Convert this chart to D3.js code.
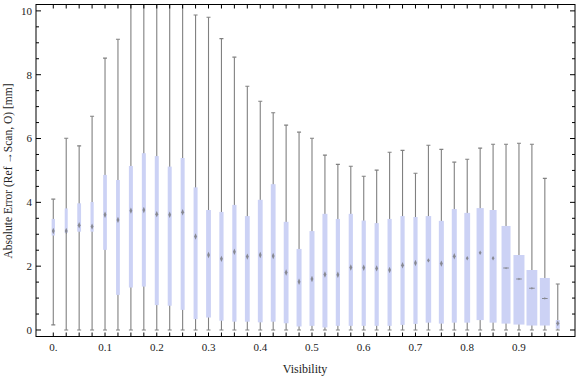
<!DOCTYPE html>
<html><head><meta charset="utf-8">
<script src="https://cdn.jsdelivr.net/npm/d3@7"></script>
<style>
html,body{margin:0;padding:0;background:#fff;}
svg{display:block;}
text{font-family:"Liberation Serif","Times New Roman",serif;fill:#222;}
</style></head>
<body>
<svg id="chart" width="576" height="377"></svg>
<script>
// Visibility bins (box positions)
const visibility = d3.range(40).map(i => +(i * 0.025).toFixed(3));
// Whisker minimum
const whiskerLow = [0.16,0,0,0,0,0,0,0,0,0,0,0,0,0,0,0,0,0,0,0,0,0,0,0,0,0,0,0,0,0,0,0,0,0,0,0,0,0,0,0];
// First quartile
const q1 = [2.96,3.04,3.08,3.08,2.51,1.10,1.33,1.36,0.78,0.76,0.63,0.34,0.39,0.29,0.26,0.26,0.24,0.26,0.21,0.11,
            0.13,0.08,0.13,0.13,0.13,0.13,0.13,0.16,0.19,0.23,0.20,0.23,0.23,0.31,0.23,0.20,0.17,0.14,0.14,0.04];
// Median
const median = [3.10,3.10,3.28,3.24,3.61,3.45,3.74,3.76,3.63,3.61,3.69,2.93,2.35,2.23,2.45,2.30,2.35,2.32,1.80,1.51,
                1.60,1.74,1.73,1.96,1.95,1.93,1.88,2.03,2.10,2.18,2.08,2.31,2.25,2.42,2.25,1.94,1.60,1.31,0.99,0.21];
// Third quartile
const q3 = [3.48,3.81,3.97,4.01,4.86,4.70,5.14,5.54,5.45,5.12,5.39,4.47,3.76,3.70,3.92,3.57,4.08,4.57,3.39,2.54,
            3.10,3.64,3.48,3.64,3.43,3.35,3.48,3.57,3.54,3.57,3.42,3.79,3.67,3.82,3.76,3.26,2.35,1.88,1.63,0.31];
// Whisker maximum
const whiskerHigh = [4.10,6.01,5.77,6.70,8.52,9.11,10.24,10.9,10.7,10.6,10.5,9.87,9.80,9.13,8.55,7.64,7.17,6.81,6.42,6.20,
                     6.01,5.48,5.19,5.13,4.82,5.01,5.57,5.63,4.91,5.79,5.66,5.26,5.35,5.70,5.82,5.82,5.85,5.82,4.75,1.44];
// Relative sample count per bin (drives box width)
const sampleCount = [33,30,38,32,37,38,40,40,40,40,40,40,48,42,42,48,48,48,48,50,
                     50,50,42,42,42,42,42,42,42,55,50,50,58,72,70,90,110,108,100,40];
// Tick labels
const xTickValues = [0,0.1,0.2,0.3,0.4,0.5,0.6,0.7,0.8,0.9];
const xTickLabels = ["0.","0.1","0.2","0.3","0.4","0.5","0.6","0.7","0.8","0.9"];
const yTickValues = [0,2,4,6,8,10];

const data = visibility.map((v,i)=>({v, lo:whiskerLow[i], q1:q1[i], med:median[i], q3:q3[i], hi:whiskerHigh[i], n:sampleCount[i]}));

const svg = d3.select("#chart");
const L=36, R=575, T=4.5, B=336.5;
const x = d3.scaleLinear().domain([-0.0334,1.0083]).range([L,R]);
const y = d3.scaleLinear().domain([-0.204,10.2]).range([B,T]);
const wScale = d3.scaleLinear().domain([0,110]).range([0,11]);

svg.append("defs").append("clipPath").attr("id","clip")
  .append("rect").attr("x",L).attr("y",T).attr("width",R-L).attr("height",B-T);

const g = svg.append("g").attr("clip-path","url(#clip)");
const wc = "#808080";

// whiskers
g.selectAll("line.wl").data(data).join("line")
  .attr("x1",d=>x(d.v)).attr("x2",d=>x(d.v))
  .attr("y1",d=>y(d.lo)).attr("y2",d=>y(d.hi))
  .attr("stroke",wc).attr("stroke-width",1.1);
// caps
["lo","hi"].forEach(k=>{
  g.selectAll("line.cap"+k).data(data).join("line")
    .attr("x1",d=>x(d.v)-2).attr("x2",d=>x(d.v)+2)
    .attr("y1",d=>y(d[k])).attr("y2",d=>y(d[k]))
    .attr("stroke",wc).attr("stroke-width",1.1);
});
// boxes
g.selectAll("rect.box").data(data).join("rect")
  .attr("x",d=>x(d.v)-wScale(d.n)/2).attr("width",d=>wScale(d.n))
  .attr("y",d=>y(d.q3)).attr("height",d=>y(d.q1)-y(d.q3))
  .attr("fill","#ccd2f5");
// median markers
g.selectAll("path.med").data(data).join("path")
  .attr("d",d=>{
    const w=wScale(d.n), cx=x(d.v), cy=y(d.med);
    const boxH=y(d.q1)-y(d.q3);
    const hw=Math.min(1.4, boxH/3);
    let hh = w<=5.2?3.2:(w<=7.5?2.2:1.2);
    hh=Math.min(hh, boxH/3);
    let p=`M${cx-hw},${cy}L${cx},${cy-hh}L${cx+hw},${cy}L${cx},${cy+hh}Z`;
    if(w>7.5){ const lw=2.8; p+=`M${cx-lw},${cy-0.5}H${cx+lw}V${cy+0.5}H${cx-lw}Z`; }
    return p;
  })
  .attr("fill","#707070").attr("opacity",0.75);

// frame
svg.append("rect").attr("x",L).attr("y",T).attr("width",R-L).attr("height",B-T)
  .attr("fill","none").attr("stroke","#000").attr("stroke-width",1);

// x ticks (top and bottom, at each bin)
const tk = svg.append("g").attr("stroke","#000").attr("stroke-width",1);
tk.selectAll("line.tt").data(visibility).join("line")
  .attr("x1",d=>x(d)).attr("x2",d=>x(d)).attr("y1",T).attr("y2",T+4);
tk.selectAll("line.tb").data(visibility).join("line")
  .attr("x1",d=>x(d)).attr("x2",d=>x(d)).attr("y1",B).attr("y2",B-4);
// y ticks (left and right)
const yMinor = d3.range(0,10.01,0.5);
tk.selectAll("line.yl").data(yMinor).join("line")
  .attr("x1",L).attr("x2",d=>L+(d%2===0?5:3)).attr("y1",d=>y(d)).attr("y2",d=>y(d));
tk.selectAll("line.yr").data(yMinor).join("line")
  .attr("x1",R).attr("x2",d=>R-(d%2===0?5:3)).attr("y1",d=>y(d)).attr("y2",d=>y(d));

// tick labels
svg.selectAll("text.xl").data(xTickValues).join("text")
  .attr("x",d=>x(d)).attr("y",351).attr("text-anchor","middle")
  .attr("font-size",11).text((d,i)=>xTickLabels[i]);
svg.selectAll("text.yl").data(yTickValues).join("text")
  .attr("x",32).attr("y",d=>y(d)).attr("dy","0.35em").attr("text-anchor","end")
  .attr("font-size",11).text(d=>d);

// axis titles
svg.append("text").attr("x",305).attr("y",373).attr("text-anchor","middle")
  .attr("font-size",12).text("Visibility");
svg.append("text").attr("transform","translate(12,171) rotate(-90)")
  .attr("text-anchor","middle").attr("font-size",11.5)
  .text("Absolute Error (Ref \u2192Scan, O) [mm]");
</script>
</body></html>
